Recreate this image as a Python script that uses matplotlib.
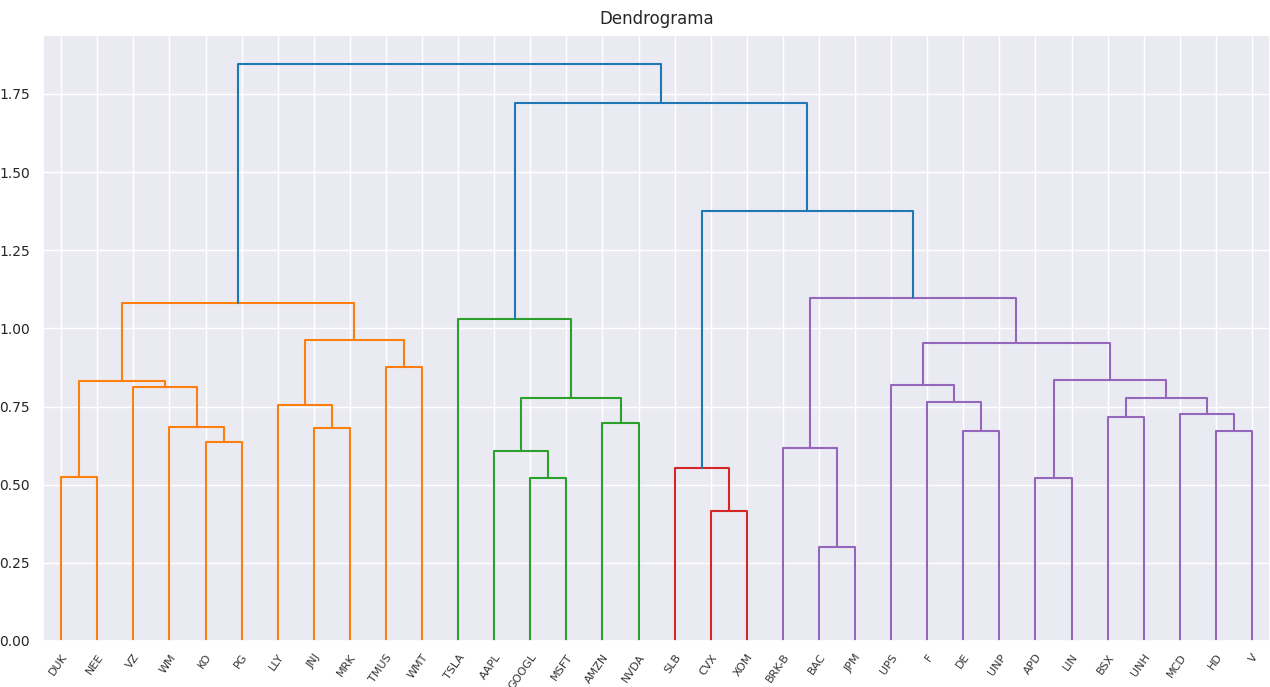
import matplotlib
matplotlib.use("Agg")
import matplotlib.pyplot as plt
import seaborn as sns
import numpy as np

sns.set_theme(style="darkgrid")
plt.rcParams['font.family'] = ['DejaVu Sans']

labels = ["DUK", "NEE", "VZ", "WM", "KO", "PG", "LLY", "JNJ", "MRK", "TMUS", "WMT",
          "TSLA", "AAPL", "GOOGL", "MSFT", "AMZN", "NVDA", "SLB", "CVX", "XOM",
          "BRK-B", "BAC", "JPM", "UPS", "F", "DE", "UNP", "APD", "LIN", "BSX",
          "UNH", "MCD", "HD", "V"]

# merges: children are leaf names or indices of earlier merges
link_a = ["BAC", "CVX", "GOOGL", "APD", "DUK", "SLB", "AAPL", "BRK-B", "KO", "DE",
          "HD", "JNJ", "WM", "AMZN", "BSX", "MCD", "LLY", "F", 6, 14,
          "VZ", "UPS", 4, 3, "TMUS", 21, 16, "TSLA", 22, 7, 5, 27, 28]
link_b = ["JPM", "XOM", "MSFT", "LIN", "NEE", 1, 2, 0, "PG", "UNP",
          "V", "MRK", 8, "NVDA", "UNH", 10, 11, 9, 13, 15,
          12, 17, 20, 19, "WMT", 23, 24, 18, 26, 25, 29, 30, 31]
link_h = [0.301, 0.416, 0.521, 0.521, 0.525, 0.553, 0.608, 0.617, 0.637, 0.672,
          0.672, 0.681, 0.685, 0.697, 0.717, 0.726, 0.755, 0.765, 0.777, 0.777,
          0.813, 0.819, 0.832, 0.835, 0.877, 0.953, 0.963, 1.030, 1.081, 1.097,
          1.376, 1.721, 1.846]

cluster_colors = ["#ff7f0e", "#2ca02c", "#d62728", "#9467bd", "#8c564b", "#e377c2"]
above_color = "#1f77b4"

leaf_x = {lab: 5 + 10 * i for i, lab in enumerate(labels)}
n_merge = len(link_h)
node_x = {}

def xpos(c):
    return leaf_x[c] if isinstance(c, str) else node_x[c]

def ypos(c):
    return 0.0 if isinstance(c, str) else link_h[c]

for k in range(n_merge):
    node_x[k] = (xpos(link_a[k]) + xpos(link_b[k])) / 2.0

threshold = 0.7 * max(link_h)
node_color = {}
counter = [0]

def assign(k, parent_color):
    if parent_color is None and link_h[k] < threshold:
        col = cluster_colors[counter[0] % len(cluster_colors)]
        counter[0] += 1
    elif parent_color is not None:
        col = parent_color
    else:
        col = above_color
    node_color[k] = col
    inherit = col if col != above_color else None
    for c in (link_a[k], link_b[k]):
        if not isinstance(c, str):
            assign(c, inherit)

assign(n_merge - 1, None)

fig = plt.figure(figsize=(12.7, 6.87), dpi=100)
ax = fig.add_axes([0.034, 0.067, 0.966, 0.882])

for k in range(n_merge):
    a, b = link_a[k], link_b[k]
    xs = [xpos(a), xpos(a), xpos(b), xpos(b)]
    ys = [ypos(a), link_h[k], link_h[k], ypos(b)]
    ax.plot(xs, ys, color=node_color[k], lw=1.5)

ax.set_xlim(0, 10 * len(labels))
ax.set_ylim(0, max(link_h) * 1.05)
ax.set_xticks([leaf_x[l] for l in labels])
ax.set_xticklabels(labels, rotation=55, fontsize=8, ha="right", rotation_mode="anchor",
                   color="#333333")
ax.set_yticks([0, 0.25, 0.5, 0.75, 1.0, 1.25, 1.5, 1.75])
ax.set_yticklabels(["0.00", "0.25", "0.50", "0.75", "1.00", "1.25", "1.50", "1.75"],
                   fontsize=10)
ax.tick_params(axis="x", pad=2)
ax.set_title("Dendrograma", fontsize=12, pad=8)

fig.savefig("out.png", dpi=100)
